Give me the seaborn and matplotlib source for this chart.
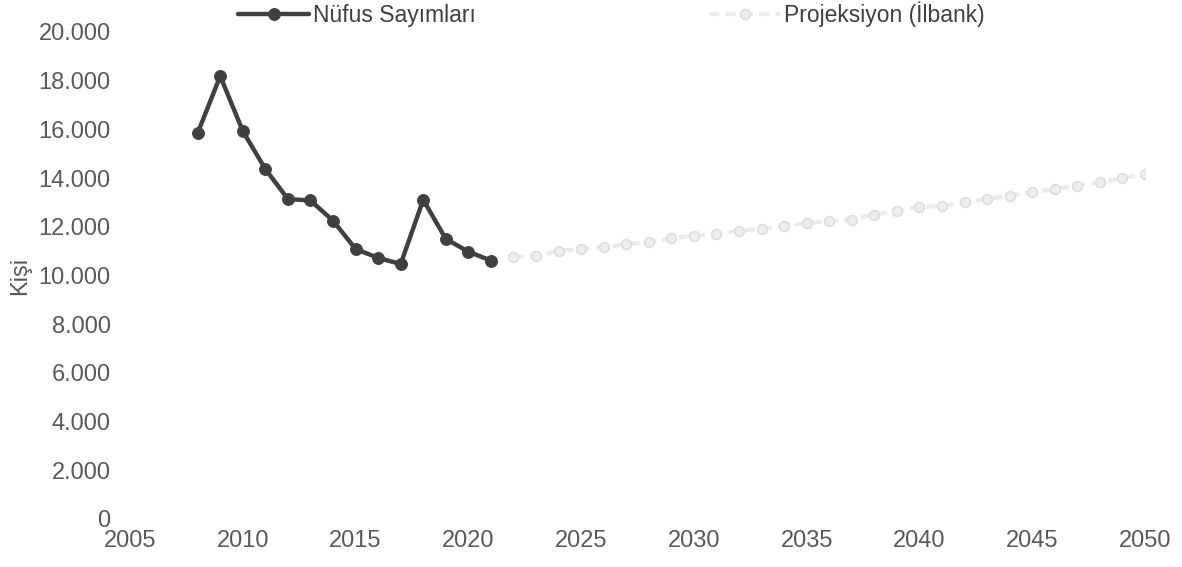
import matplotlib
matplotlib.use("Agg")
import matplotlib.pyplot as plt
import matplotlib.ticker as mticker
import seaborn as sns
import pandas as pd

hist_years = list(range(2008, 2022))
hist_values = [15850, 18190, 15930, 14370, 13140, 13080, 12250, 11090, 10720, 10470, 13110, 11500, 10980, 10610]

proj_years = list(range(2022, 2051))
proj_values = [10750, 10810, 11000, 11090, 11160, 11290, 11360, 11530, 11630, 11700, 11840, 11910,
               12020, 12160, 12240, 12290, 12500, 12660, 12800, 12870, 13000, 13140, 13280, 13410,
               13550, 13690, 13830, 13990, 14170]

hist_label = "Nüfus Sayımları"
proj_label = "Projeksiyon (İlbank)"

sns.set_theme(style="white")
plt.rcParams['font.family'] = ['Liberation Sans', 'DejaVu Sans']

fig = plt.figure(figsize=(11.82, 5.67), dpi=100)
ax = fig.add_axes([0.110, 0.0847, 0.8587, 0.8589])

df_h = pd.DataFrame({"Yıl": hist_years, "Kişi": hist_values})
df_p = pd.DataFrame({"Yıl": proj_years, "Kişi": proj_values})

sns.lineplot(data=df_p, x="Yıl", y="Kişi", ax=ax, color="#ebebeb", linewidth=3,
             linestyle=(0, (2.5, 1.5)), marker="o", markersize=7, markerfacecolor="#eeeeee",
             markeredgecolor="#dddddd", markeredgewidth=1.2,
             label=proj_label, legend=False)
sns.lineplot(data=df_h, x="Yıl", y="Kişi", ax=ax, color="#404040", linewidth=3.2,
             marker="o", markersize=8.5, markeredgecolor="#404040",
             label=hist_label, legend=False)

ax.set_xlim(2005, 2050)
ax.set_ylim(0, 20000)
ax.xaxis.set_major_locator(mticker.MultipleLocator(5))
ax.yaxis.set_major_locator(mticker.MultipleLocator(2000))
ax.yaxis.set_major_formatter(mticker.FuncFormatter(lambda v, p: f"{int(v):,}".replace(",", ".")))
for s in ax.spines.values():
    s.set_visible(False)
ax.tick_params(axis="both", labelsize=17, colors="#595959", length=0)
ax.tick_params(axis="y", pad=14)
ax.tick_params(axis="x", pad=8)
ax.set_xlabel("")
ax.set_ylabel("Kişi", fontsize=17, color="#595959", labelpad=5)
ax.grid(False)

handles, labels = ax.get_legend_handles_labels()
order = [labels.index(hist_label), labels.index(proj_label)]
fig.legend([handles[i] for i in order], [labels[i] for i in order], loc="center",
           bbox_to_anchor=(0.517, 0.975), ncol=2, frameon=False, fontsize=16.5,
           columnspacing=10.2, handlelength=3.1, handletextpad=0.15, labelcolor="#404040",
           borderpad=0, borderaxespad=0)

fig.savefig("out.png", dpi=100)
